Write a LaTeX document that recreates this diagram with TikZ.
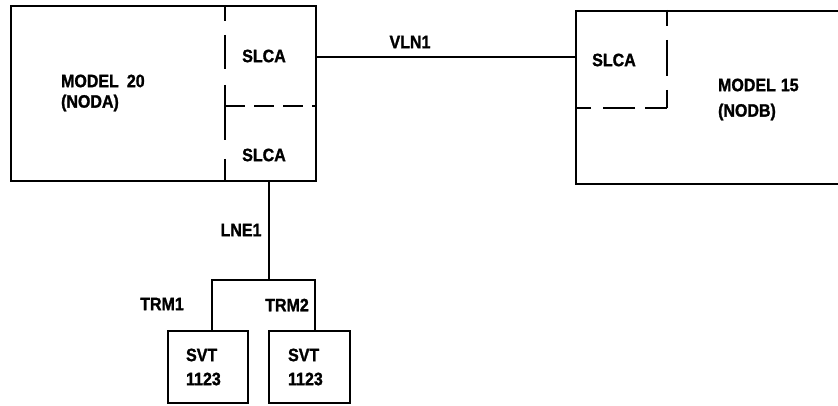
\documentclass[tikz,border=0pt]{standalone}
\usepackage{fontspec}
\setmainfont{Liberation Sans}[BoldFeatures={FakeBold=1.5}]
\newcommand{\mytx}[1]{\scalebox{1.0}[1.12]{#1}}
\begin{document}
\begin{tikzpicture}[x=1pt,y=-1pt,
  line width=2.2pt,
  lbl/.style={font=\fontsize{16}{18}\selectfont\bfseries, inner sep=0pt},
  boxs/.style={draw, line width=2.2pt, inner sep=0pt, anchor=north west},
  dashh/.style={dash pattern=on 20pt off 9pt},
]
\useasboundingbox (0,0) rectangle (838,406);
\clip (0,0) rectangle (838,406);

% left node box
\node[boxs, minimum width=305pt, minimum height=175pt] (A) at (10,5) {};
% right node box (extends past the right edge)
\node[boxs, minimum width=300pt, minimum height=173pt] (B) at (575,10) {};

% internal dashed partitions, left box
\coordinate (a1) at (225,5);
\coordinate (a2) at (225,180);
\coordinate (a3) at (225,106);
\coordinate (a4) at (315,106);
\draw[dash pattern=on 16pt off 14pt on 34pt off 16pt on 55pt off 19pt on 40pt off 10pt] (a1) -- (a2);
\draw[dashh] (a3) -- (a4);

% internal dashed partitions, right box
\coordinate (b1) at (667,10);
\coordinate (b2) at (667,108);
\coordinate (b3) at (575,108);
\draw[dash pattern=on 16pt off 14pt on 36pt off 14pt on 30pt] (b1) -- (b2);
\draw[dash pattern=on 22pt off 10pt on 32pt off 12pt on 30pt] (b2) -- (b3);

% labels in boxes
\node[lbl, anchor=west] (m20) at (60,81) {\mytx{MODEL\hspace{8pt}20}};
\node[lbl, anchor=west] (noda) at (60,103) {\mytx{(NODA)}};
\node[lbl] (slca1) at (264,56) {\mytx{SLCA}};
\node[lbl] (slca2) at (264,155) {\mytx{SLCA}};
\node[lbl] (slca3) at (614,60) {\mytx{SLCA}};
\node[lbl, anchor=west] (m15) at (717,85) {\mytx{MODEL\hspace{5pt}15}};
\node[lbl, anchor=west] (nodb) at (717,112) {\mytx{(NODB)}};

% VLN1 link
\coordinate (vl) at (0,57);
\draw (A.east |- vl) -- (B.west |- vl);
\node[lbl] (vln) at (410,42) {\mytx{VLN1}};

% terminals
\node[boxs, minimum width=80pt, minimum height=72pt] (s1) at (167,330) {};
\node[boxs, minimum width=81pt, minimum height=72pt] (s2) at (268,330) {};
\node[lbl, anchor=west] (s1a) at (185,355) {\mytx{SVT}};
\node[lbl, anchor=west] (s1b) at (185,379) {\mytx{1123}};
\node[lbl, anchor=west] (s2a) at (287,355) {\mytx{SVT}};
\node[lbl, anchor=west] (s2b) at (287,379) {\mytx{1123}};

% LNE1 and branches
\coordinate (tap) at (269,280);
\coordinate (t1) at (212,280);
\coordinate (t2) at (315,280);
\draw (tap |- A.south) -- (tap);
\draw (t1 |- s1.north) -- (t1) -- (t2) -- (t2 |- s2.north);
\node[lbl] (lne) at (241,230) {\mytx{LNE1}};
\node[lbl] (trm1) at (162,304) {\mytx{TRM1}};
\node[lbl] (trm2) at (287,305) {\mytx{TRM2}};
\end{tikzpicture}
\end{document}
